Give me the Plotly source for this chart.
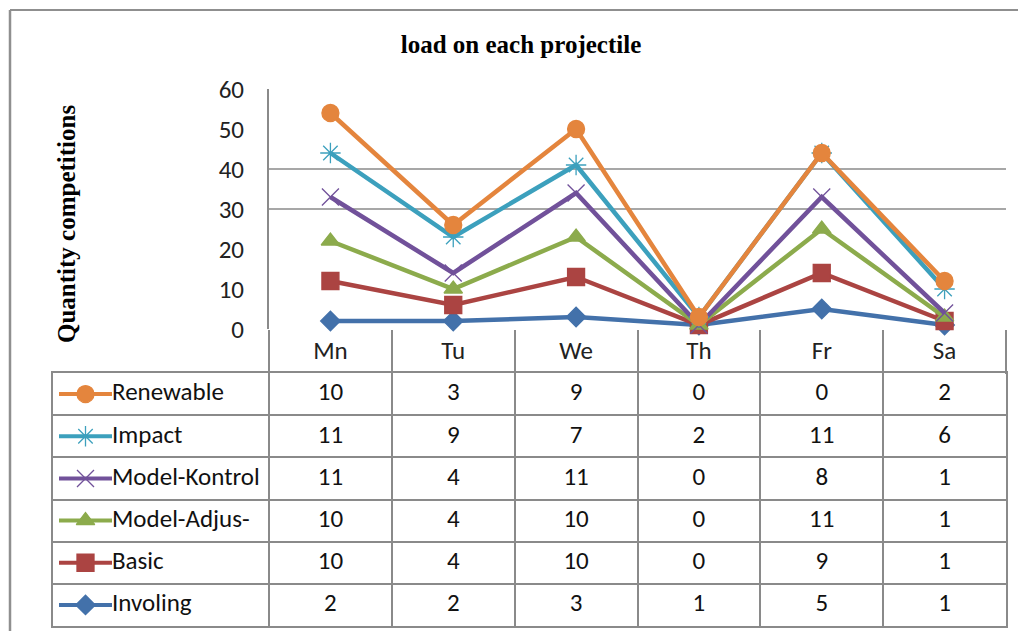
import plotly.graph_objects as go

# ---- data -------------------------------------------------------------
days = ["Mn", "Tu", "We", "Th", "Fr", "Sa"]
series_names = ["Involing", "Basic", "Model-Adjus-", "Model-Kontrol", "Impact", "Renewable"]
involing = [2, 2, 3, 1, 5, 1]
basic = [10, 4, 10, 0, 9, 1]
model_adjus = [10, 4, 10, 0, 11, 1]
model_kontrol = [11, 4, 11, 0, 8, 1]
impact = [11, 9, 7, 2, 11, 6]
renewable = [10, 3, 9, 0, 0, 2]
y_ticks = [0, 10, 20, 30, 40, 50, 60]
grid_values = [30, 40]

series_values = [involing, basic, model_adjus, model_kontrol, impact, renewable]

# ---- styles -----------------------------------------------------------
colors = ["#4371AA", "#AB4442", "#8CAB4C", "#71519A", "#3CA0BD", "#E4853D"]
symbols = ["diamond", "square", "triangle-up", "x-thin-open", "asterisk-open", "circle"]
sizes = [15, 17, 16, 17, 17, 17]

W, H = 1018, 631
PLOT_L, PLOT_R, PLOT_T, PLOT_B = 269, 1006, 89, 329
TAB_L, TAB_T, TAB_B = 53, 373, 626
GRID = "#8a8a8a"
SANS = "Calibri, Carlito, Liberation Sans, Arial, sans-serif"
SERIF = "Times New Roman, Liberation Serif, serif"
FS = 25


def fx(p):
    return p / W


def fy(p):
    return 1 - p / H


n = len(days)
unit = (PLOT_R - PLOT_L) / n
tab_x0 = -0.5 - (PLOT_L - TAB_L) / unit
key_a = tab_x0 + (59 - TAB_L) / unit
key_b = tab_x0 + (112 - TAB_L) / unit
key_m = (key_a + key_b) / 2
label_x = tab_x0 + (112 - TAB_L) / unit

fig = go.Figure()

# stacked lines on the chart
for name, vals, c, sym, sz in zip(series_names, series_values, colors, symbols, sizes):
    fig.add_trace(go.Scatter(
        x=days, y=vals, name=name, stackgroup="load", fill="none",
        mode="lines+markers", cliponaxis=False,
        line=dict(color=c, width=4.5),
        marker=dict(symbol=sym, size=sz, color=c, line=dict(color=c, width=1.3)),
        xaxis="x", yaxis="y", showlegend=False,
    ))

# data table: legend keys, row labels and values
for r, (name, vals, c, sym, sz) in enumerate(zip(series_names, series_values, colors, symbols, sizes)):
    fig.add_trace(go.Scatter(
        x=[key_a, key_m, key_b], y=[r, r, r], mode="lines+markers",
        line=dict(color=c, width=4),
        marker=dict(symbol=sym, size=sz, color=c, opacity=[0, 1, 0],
                    line=dict(color=c, width=1.3)),
        xaxis="x2", yaxis="y2", showlegend=False, cliponaxis=False,
    ))
    fig.add_trace(go.Scatter(
        x=list(range(n)), y=[r] * n, mode="text", text=[str(v) for v in vals],
        textfont=dict(family=SANS, size=FS, color="#111"),
        xaxis="x2", yaxis="y2", showlegend=False,
    ))

fig.add_trace(go.Scatter(
    x=[label_x] * len(series_names), y=list(range(len(series_names))), mode="text",
    text=series_names, textposition="middle right",
    textfont=dict(family=SANS, size=FS, color="#111"),
    xaxis="x2", yaxis="y2", showlegend=False, cliponaxis=False,
))

fig.update_layout(
    width=W, height=H,
    margin=dict(l=0, r=0, t=0, b=0, pad=0, autoexpand=False),
    paper_bgcolor="white", plot_bgcolor="rgba(0,0,0,0)",
    hovermode=False,
    title=dict(text="<b>load on each projectile</b>", x=fx(521), y=fy(44),
               xanchor="center", yanchor="middle", automargin=False,
               font=dict(family=SERIF, size=25, color="black")),
    xaxis=dict(domain=[fx(PLOT_L), fx(PLOT_R)], type="category", range=[-0.5, n - 0.5],
               tickson="boundaries", ticks="outside", ticklen=44, tickwidth=2,
               tickcolor=GRID, showgrid=False, showline=False, zeroline=False,
               ticklabelstandoff=4, automargin=False,
               tickfont=dict(family=SANS, size=FS, color="#222"), anchor="y"),
    yaxis=dict(domain=[fy(PLOT_B), fy(PLOT_T)], range=[0, 60], tickvals=y_ticks,
               showgrid=False, showline=True, linecolor=GRID, linewidth=2,
               ticks="outside", ticklen=18, tickcolor="rgba(0,0,0,0)", zeroline=False,
               automargin=False,
               tickfont=dict(family=SANS, size=FS, color="#222"), anchor="x"),
    xaxis2=dict(domain=[fx(TAB_L), fx(PLOT_R)], range=[tab_x0, n - 0.5],
                tickvals=[i - 0.5 for i in range(n)], showticklabels=False, ticks="",
                showgrid=True, gridcolor=GRID, gridwidth=2, zeroline=False, automargin=False,
                showline=True, mirror=True, linecolor=GRID, linewidth=2, anchor="y2"),
    yaxis2=dict(domain=[fy(TAB_B), fy(TAB_T)], range=[-0.5, len(series_names) - 0.5],
                tickvals=[i + 0.5 for i in range(len(series_names) - 1)],
                showticklabels=False, ticks="", showgrid=True, gridcolor=GRID, gridwidth=2,
                zeroline=False, showline=True, mirror=True, linecolor=GRID, linewidth=2,
                automargin=False, anchor="x2"),
    annotations=[dict(text="<b>Quantity competitions</b>", x=fx(66), y=fy(224),
                      xref="paper", yref="paper", xanchor="center", yanchor="middle",
                      textangle=-90, showarrow=False,
                      font=dict(family=SERIF, size=25, color="black"))],
    shapes=[
        dict(type="line", xref="paper", yref="paper", x0=fx(10), y0=fy(10), x1=1.02, y1=fy(10),
             line=dict(color="#8f8f8f", width=2)),
        dict(type="line", xref="paper", yref="paper", x0=fx(10), y0=fy(10), x1=fx(10), y1=-0.02,
             line=dict(color="#8f8f8f", width=2.5)),
    ],
)

# horizontal gridlines at selected levels
for g in grid_values:
    fig.add_hline(y=g, line=dict(color=GRID, width=1.5), layer="below")

fig.write_html("out.html")
